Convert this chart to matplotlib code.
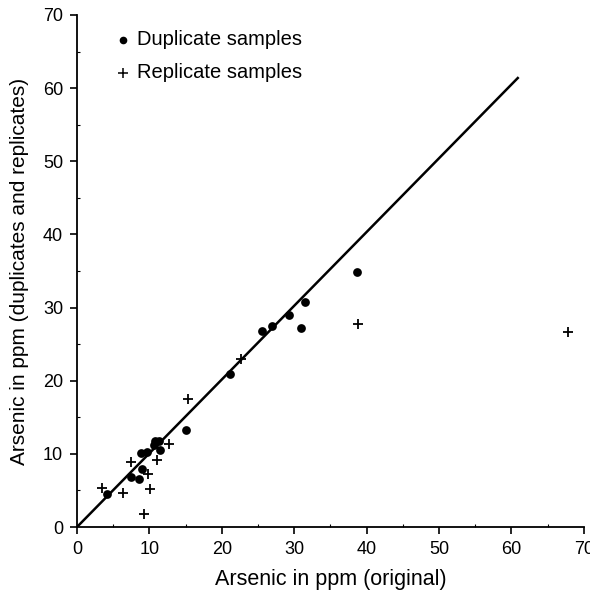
import numpy as np
import matplotlib
matplotlib.use("Agg")
import matplotlib.pyplot as plt
from matplotlib.ticker import MultipleLocator

plt.rcParams['font.family'] = ['Liberation Sans', 'DejaVu Sans']

# duplicate samples (original, duplicate)
dup_x = [4.1, 7.5, 8.6, 9.0, 8.9, 9.7, 10.7, 10.8, 11.3, 11.5, 15.0, 21.2,
         25.5, 26.9, 29.3, 31.0, 31.5, 38.7]
dup_y = [4.5, 6.8, 6.6, 7.9, 10.1, 10.2, 11.2, 11.7, 11.8, 10.5, 13.2, 20.9,
         26.8, 27.5, 29.0, 27.2, 30.7, 34.9]

# replicate samples (original, replicate)
rep_x = [3.5, 6.4, 7.5, 9.3, 9.8, 10.1, 11.0, 12.7, 15.3, 22.6, 38.8, 67.8]
rep_y = [5.4, 4.6, 8.9, 1.8, 7.2, 5.2, 9.2, 11.4, 17.5, 23.0, 27.8, 26.6]

# 1:1 reference line
line_x = [0, 61]
line_y = [0, 61.5]

fig = plt.figure(figsize=(5.9, 6.01), dpi=100)
ax = fig.add_axes([0.1305, 0.1231, 0.859, 0.852])

ax.plot(line_x, line_y, color='black', lw=1.8, solid_capstyle='butt')
ax.plot(dup_x, dup_y, 'o', color='black', ms=6.3, mew=0, zorder=3)
ax.plot(rep_x, rep_y, '+', color='black', ms=7.5, mew=1.3, zorder=3)

ax.set_xlim(0, 70)
ax.set_ylim(0, 70)
ax.xaxis.set_major_locator(MultipleLocator(10))
ax.yaxis.set_major_locator(MultipleLocator(10))
ax.xaxis.set_minor_locator(MultipleLocator(5))
ax.yaxis.set_minor_locator(MultipleLocator(5))

for s in ['top', 'right']:
    ax.spines[s].set_visible(False)
for s in ['left', 'bottom']:
    ax.spines[s].set_linewidth(1.3)

ax.tick_params(which='major', direction='out', length=5, width=1.2,
               labelsize=13, pad=5)
ax.tick_params(which='minor', direction='in', length=2, width=0.8)

ax.set_xlabel('Arsenic in ppm (original)', fontsize=15.5, labelpad=8)
ax.set_ylabel('Arsenic in ppm (duplicates and replicates)', fontsize=15,
              labelpad=10)

# legend drawn as markers + text
ax.plot([6.4], [66.6], 'o', color='black', ms=5.5, mew=0, clip_on=False)
ax.text(8.3, 66.6, 'Duplicate samples', fontsize=14.5, va='center')
ax.plot([6.4], [62.1], '+', color='black', ms=7, mew=1.1, clip_on=False)
ax.text(8.3, 62.1, 'Replicate samples', fontsize=14.5, va='center')

fig.savefig('out.png', dpi=100)
